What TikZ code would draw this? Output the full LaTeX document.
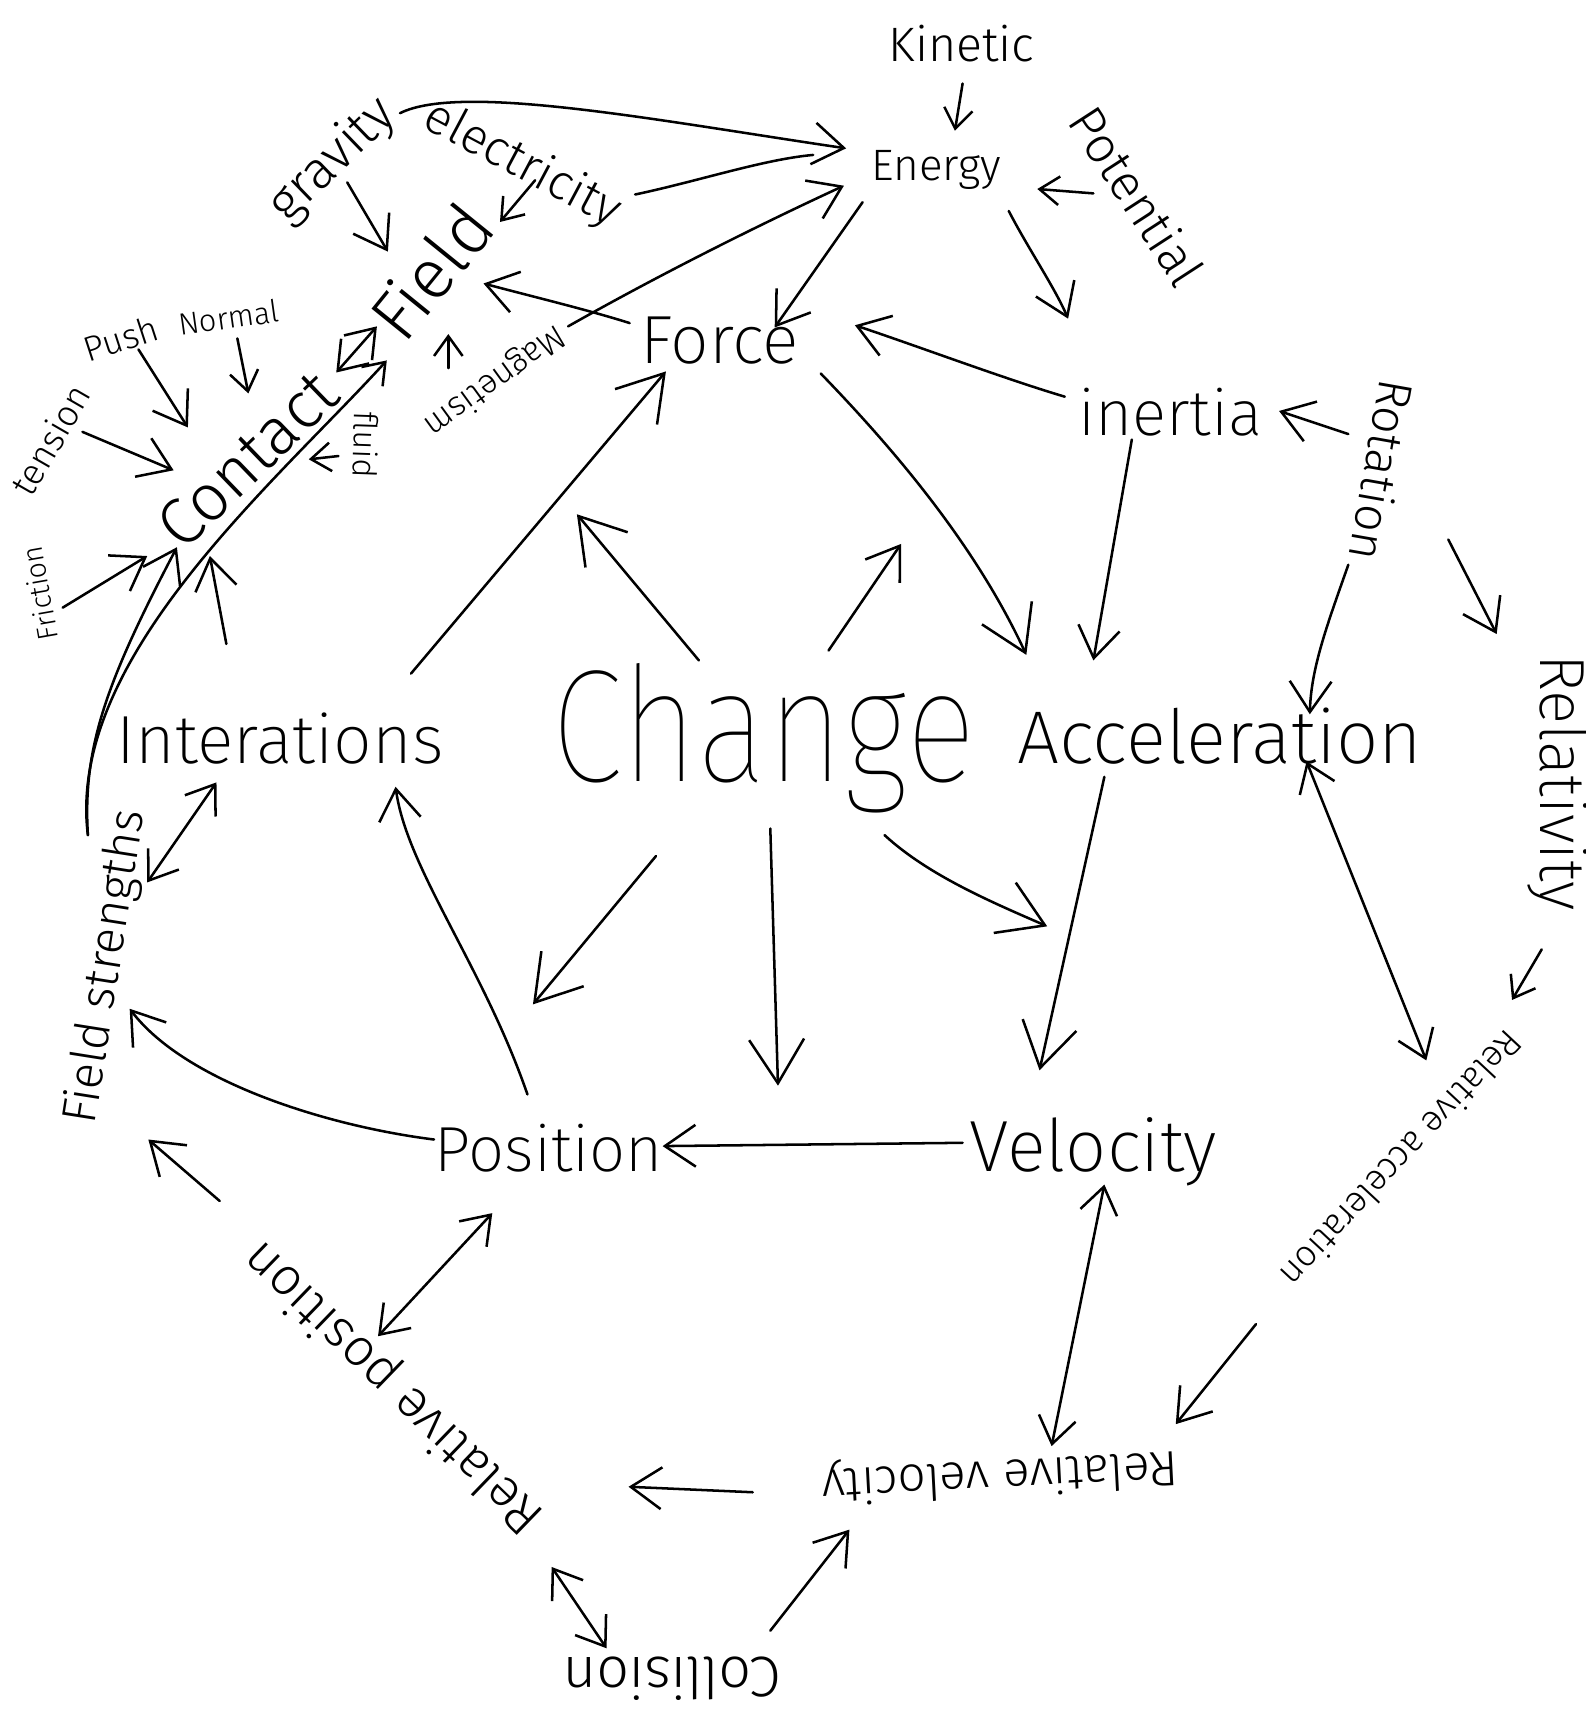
\documentclass[tikz,border=0pt]{standalone}
\usepackage{fontspec}
\IfFontExistsTF{Fira Sans Light}
	{\newfontfamily\handlight{Fira Sans Light}}
	{\newfontfamily\handlight{Fira Sans}}
\IfFontExistsTF{Fira Sans ExtraLight}
	{\newfontfamily\handmid{Fira Sans ExtraLight}}
	{\newfontfamily\handmid{Fira Sans Light}}
\IfFontExistsTF{Fira Sans Thin}
	{\newfontfamily\handthin{Fira Sans Thin}}
	{\newfontfamily\handthin{Fira Sans Light}}
\usetikzlibrary{arrows.meta, calc}

\begin{document}
\begin{tikzpicture}[
		x=1pt, y=-1pt,
		pen/.style={inner sep=0pt, font=\handthin\fontsize{#1}{#1}\selectfont},
		penmid/.style={inner sep=0pt, font=\handmid\fontsize{#1}{#1}\selectfont},
		penlight/.style={inner sep=0pt, font=\handlight\fontsize{#1}{#1}\selectfont},
		bare/.style={line width=2.3pt, line cap=round, line join=round},
		link/.style={bare, -{Straight Barb[length=28pt, width=38pt]}},
		slink/.style={bare, -{Straight Barb[length=18pt, width=26pt]}},
		blink/.style={bare, -{Straight Barb[length=40pt, width=50pt]}},
		twoway/.style={bare, {Straight Barb[length=24pt, width=34pt]}-{Straight Barb[length=24pt, width=34pt]}},
		]
		
		\fill[white] (0,0) rectangle (1443,1568);
		\useasboundingbox (0,0) rectangle (1443,1568);
		
		%% ── Centre and main ring ───────────────────────────────────────────
		\node[pen=146, xscale=0.82] (change) at (695,672)  {Change};
		\node[penmid=62]   (force)   at (655,310)  {Force};
		\node[penmid=58]   (inertia) at (1065,375) {inertia};
		\node[penmid=68]   (accel)   at (1110,670) {Acceleration};
		\node[penmid=62]   (inter)   at (255,672)  {Interations};
		\node[penmid=58]   (pos)     at (499,1045) {Position};
		\node[penmid=66]   (vel)     at (995,1048) {Velocity};
		
		%% ── Energy and field corner ────────────────────────────────────────
		\node[penlight=44] (kin)    at (875,40)  {Kinetic};
		\node[penlight=40] (energy) at (852,155) {Energy};
		\node[penlight=46, rotate=-57] (pot)  at (1035,178) {Potential};
		\node[penlight=48, rotate=44]  (grav) at (303,146)  {gravity};
		\node[penlight=45, rotate=-28] (elec) at (475,150)  {electricity};
		\node[penlight=64, rotate=51]  (field) at (392,247) {Field};
		\node[penlight=31, rotate=-144] (magnet) at (450,346) {Magnetism};
		
		%% ── Contact forces ────────────────────────────────────────────────
		\node[penlight=60, rotate=44]   (contact)  at (225,418) {Contact};
		\node[penlight=33, rotate=60]   (tension)  at (46,400)  {tension};
		\node[penlight=32, rotate=18]   (push)     at (110,308) {Push};
		\node[penlight=28, rotate=8]    (normal)   at (208,289) {Normal};
		\node[penlight=26, rotate=100]  (friction) at (36,540)  {Friction};
		\node[penlight=30, rotate=-92]  (fluid)    at (333,405) {fluid};
		\node[penlight=44, rotate=81]   (fstr)     at (97,880)  {Field strengths};
		
		%% ── Relative quantities ───────────────────────────────────────────
		\node[penlight=44, rotate=-100] (rot)    at (1258,428)  {Rotation};
		\node[penmid=58, rotate=-90]    (relat)  at (1418,712)  {Relativity};
		\node[penlight=33, rotate=-133] (relacc) at (1276,1055) {Relative acceleration};
		\node[penlight=45, rotate=-177] (relvel) at (910,1342)  {Relative velocity};
		\node[penlight=48, rotate=136]  (relpos) at (359,1262)  {Relative position};
		\node[penlight=52, rotate=180]  (coll)   at (612,1528)  {Collision};
		
		\coordinate (enDown) at (972,290);
		\coordinate (chUp)   at (820,495);
		\coordinate (midTip) at (708,988);
		
		%% ── Energy links ──────────────────────────────────────────────────
		\draw[slink] ($(kin)+(1,36)$) -- ($(energy)+(17,-36)$);
		\draw[slink] ($(pot)+(-40,-2)$) -- ($(energy)+(92,17)$);
		\draw[link] ($(energy)+(-67,29)$) -- ($(force)+(50,-12)$);
		\draw[link] ($(energy)+(66,37)$) .. controls ($(energy)+(83,70)$) and ($(energy)+(108,107)$) .. (enDown);
		\draw[link] ($(elec)+(-111,-47)$) .. controls ($(elec)+(-55,-75)$) and ($(elec)+(125,-40)$) .. ($(energy)+(-82,-20)$);
		\draw[bare] ($(elec)+(103,27)$) .. controls ($(elec)+(160,15)$) and ($(elec)+(220,-5)$) .. ($(energy)+(-112,-14)$);
		\draw[link] ($(magnet)+(67,-49)$) .. controls ($(magnet)+(150,-96)$) and ($(magnet)+(240,-141)$) .. ($(energy)+(-84,14)$);
		
		%% ── Field links ───────────────────────────────────────────────────
		\draw[link] ($(force)+(-82,-16)$) .. controls ($(force)+(-120,-28)$) and ($(force)+(-170,-40)$) .. ($(field)+(48,11)$);
		\draw[link] ($(grav)+(13,20)$) -- ($(field)+(-39,-18)$);
		\draw[slink] ($(elec)+(12,14)$) -- ($(field)+(63,-45)$);
		\draw[slink] ($(magnet)+(-42,-11)$) -- ($(field)+(16,57)$);
		\draw[twoway] ($(contact)+(81,-79)$) -- ($(field)+(-49,50)$);
		\draw[slink] ($(fstr)+(-17,-120)$) .. controls ($(fstr)+(-37,-280)$) and ($(fstr)+(153,-440)$) .. ($(field)+(-40,81)$);
		
		%% ── Contact links ─────────────────────────────────────────────────
		\draw[link] ($(fstr)+(-17,-120)$) .. controls ($(fstr)+(-22,-200)$) and ($(fstr)+(0,-260)$) .. ($(contact)+(-64,80)$);
		\draw[link] ($(inter)+(-49,-86)$) -- ($(contact)+(-34,88)$);
		\draw[link] ($(friction)+(21,13)$) -- ($(contact)+(-91,88)$);
		\draw[link] ($(tension)+(29,-7)$) -- ($(contact)+(-67,10)$);
		\draw[link] ($(push)+(16,10)$) -- ($(contact)+(-54,-29)$);
		\draw[slink] ($(normal)+(8,19)$) -- ($(contact)+(1,-60)$);
		\draw[slink] ($(fluid)+(-25,10)$) -- ($(contact)+(56,0)$);
		
		%% ── Change and the ring ───────────────────────────────────────────
		\draw[blink] ($(inter)+(119,-59)$) -- ($(force)+(-49,28)$);
		\draw[blink] ($(change)+(-59,-71)$) -- ($(force)+(-130,158)$);
		\draw[link] ($(change)+(59,-80)$) -- (chUp);
		\draw[blink] ($(force)+(92,30)$) .. controls ($(force)+(150,90)$) and ($(force)+(230,180)$) .. ($(accel)+(-176,-74)$);
		\draw[link] ($(inertia)+(-35,25)$) -- ($(accel)+(-115,-69)$);
		\draw[link] ($(inertia)+(-96,-14)$) .. controls ($(inertia)+(-150,-30)$) and ($(inertia)+(-230,-60)$) .. ($(force)+(123,-14)$);
		\draw[blink] ($(accel)+(-105,37)$) -- ($(vel)+(-49,-74)$);
		\draw[blink] ($(change)+(-98,107)$) -- ($(pos)+(-14,-131)$);
		\draw[blink] ($(change)+(6,82)$) -- (midTip);
		\draw[blink] ($(change)+(110,88)$) .. controls ($(change)+(150,125)$) and ($(change)+(210,150)$) .. ($(vel)+(-42,-205)$);
		\draw[link] ($(vel)+(-119,-8)$) -- ($(pos)+(104,-2)$);
		\draw[link] ($(pos)+(-19,-49)$) .. controls ($(pos)+(-59,-165)$) and ($(pos)+(-129,-255)$) .. ($(inter)+(105,44)$);
		\draw[link] ($(pos)+(-104,-8)$) .. controls ($(pos)+(-200,-20)$) and ($(pos)+(-330,-60)$) .. ($(fstr)+(21,38)$);
		\draw[twoway] ($(inter)+(-58,40)$) -- ($(fstr)+(37,-77)$);
		
		%% ── Rotation and relative quantities ──────────────────────────────
		\draw[link] ($(rot)+(-31,-33)$) -- ($(inertia)+(99,-1)$);
		\draw[link] ($(rot)+(-31,86)$) .. controls ($(rot)+(-50,140)$) and ($(rot)+(-65,180)$) .. ($(accel)+(82,-20)$);
		\draw[link] ($(rot)+(60,63)$) -- ($(relat)+(-56,-135)$);
		\draw[slink] ($(relat)+(-15,152)$) -- ($(relacc)+(100,-145)$);
		\draw[twoway] ($(accel)+(79,23)$) -- ($(relacc)+(22,-90)$);
		\draw[link] ($(relacc)+(-133,150)$) -- ($(relvel)+(160,-46)$);
		\draw[twoway] ($(vel)+(10,30)$) -- ($(relvel)+(47,-26)$);
		\draw[link] ($(relvel)+(-225,16)$) -- ($(relpos)+(213,91)$);
		\draw[twoway] ($(pos)+(-51,59)$) -- ($(relpos)+(-15,-46)$);
		\draw[link] ($(relpos)+(-159,-169)$) -- ($(fstr)+(38,157)$);
		\draw[twoway] ($(relpos)+(143,164)$) -- ($(coll)+(-60,-28)$);
		\draw[link] ($(coll)+(89,-44)$) -- ($(relvel)+(-137,50)$);
		
	\end{tikzpicture}
\end{document}
